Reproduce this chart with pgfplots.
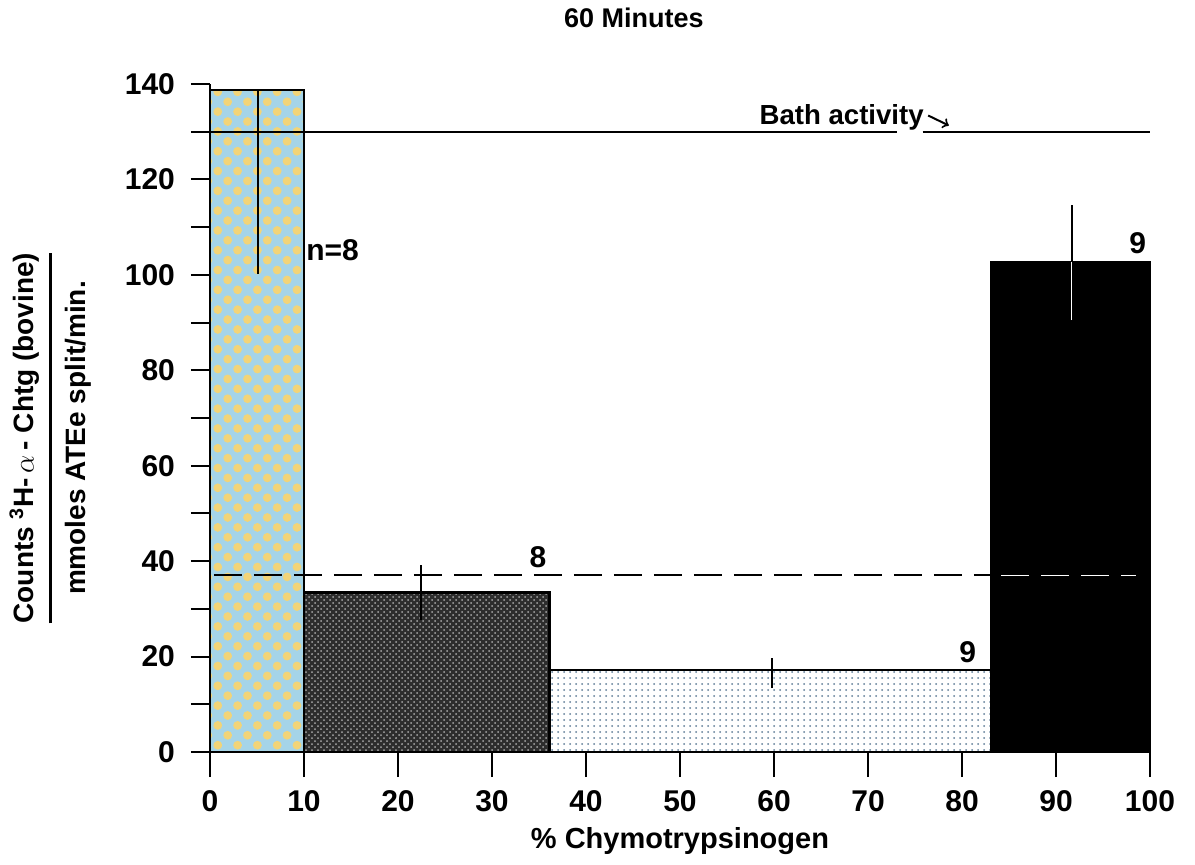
\documentclass[border=0pt]{standalone}
\usepackage{pgfplots}
\pgfplotsset{compat=1.18}
\usepackage{fontspec}
\setmainfont{Liberation Sans}
\usetikzlibrary{patterns,patterns.meta}
\definecolor{cblue}{RGB}{165,212,232}
\definecolor{cyell}{RGB}{242,212,120}
\definecolor{cdark}{RGB}{45,45,45}
\definecolor{cdarkdot}{RGB}{170,170,170}
\definecolor{cdot}{RGB}{95,125,150}
\pgfplotsset{common/.style={
  scale only axis, width=470pt, height=334pt,
  xmin=0, xmax=100, ymin=0, ymax=140,
  clip=false,
  /pgf/number format/assume math mode=true,
  tick label style={font=\fontsize{15}{15}\selectfont\bfseries},
}, post/.style={
  tick align=outside,
  every tick/.style={black, line width=1pt},
  axis line style={-, line width=1pt},
}}
\begin{document}
\begin{tikzpicture}
\begin{axis}[common,
  axis x line=bottom, axis y line=left, post,
  xtick=\empty, ytick={0,20,...,140}, minor ytick={10,30,...,130},
  major tick length=9.5pt, minor tick length=9.5pt,
  yticklabel style={xshift=-4.5pt},
  xlabel={\% Chymotrypsinogen},
  xlabel style={at={(axis description cs:0.5,-0.133)}, anchor=center, font=\fontsize{14.5}{14.5}\selectfont\bfseries},
  ylabel={\setlength\arrayrulewidth{1.5pt}\begin{tabular}{@{}c@{}}Counts \textsuperscript{3}H-\,$\alpha$\,- Chtg (bovine)\\[3pt]\hline\rule{0pt}{17pt}mmoles ATEe split/min.\end{tabular}},
  ylabel style={at={(axis description cs:-0.168,0.47)}, anchor=center, font=\fontsize{14}{15}\selectfont\bfseries},
]
\coordinate (O) at (axis cs:0,0);
% bars
\addplot[ybar interval, draw=black, line width=1.2pt, fill=cblue,
  postaction={pattern={Dots[distance=7pt, radius=2.2pt, angle=45]}, pattern color=cyell}]
  coordinates {(0,138.8) (10,138.8)};
\addplot[ybar interval, draw=black, line width=1.2pt, fill=cdark,
  postaction={pattern=crosshatch dots, pattern color=cdarkdot}]
  coordinates {(10,33.4) (36.1,33.4)};
\addplot[ybar interval, draw=black, line width=1.2pt, fill=white,
  postaction={pattern=dots, pattern color=cdot}]
  coordinates {(36.1,17.2) (83.1,17.2)};
\addplot[ybar interval, draw=black, line width=1.2pt, fill=black]
  coordinates {(83.1,102.6) (100,102.6)};
% error bars
\addplot[black, line width=1pt] coordinates {(5.1,100.2) (5.1,138.8)};
\addplot[black, line width=1pt] coordinates {(22.4,27.7) (22.4,39.2)};
\addplot[black, line width=1pt] coordinates {(59.8,13.4) (59.8,19.7)};
\addplot[black, line width=1pt] coordinates {(91.7,102.6) (91.7,114.6)};
\addplot[white, line width=0.5pt] coordinates {(91.7,90.5) (91.7,102.6)};
% bath activity
\addplot[black, line width=1.2pt] coordinates {(-1.8,130) (73.1,130)};
\addplot[black, line width=1.2pt] coordinates {(75.8,130) (100,130)};
% dashed line
\addplot[black, line width=1pt, dash pattern=on 14pt off 6pt] coordinates {(0.4,37) (83.1,37)};
\addplot[white, line width=0.5pt, dash pattern=on 14pt off 6pt] coordinates {(84.2,37) (98.5,37)};
% texts
\node[anchor=base, font=\fontsize{13.8}{13.8}\selectfont\bfseries] at (axis cs:67.2,131.6) {Bath activity};
\draw[->, line width=1pt] (axis cs:76.4,133.4) -- (axis cs:78.6,131.3);
\node[anchor=west, inner sep=0pt, font=\fontsize{15}{15}\selectfont\bfseries] at (axis cs:10.2,105.2) {n=8};
\node[font=\fontsize{15}{15}\selectfont\bfseries] at (axis cs:34.9,40.9) {8};
\node[font=\fontsize{15}{15}\selectfont\bfseries] at (axis cs:80.6,21) {9};
\node[font=\fontsize{15}{15}\selectfont\bfseries] at (axis cs:98.7,106.7) {9};
\node[font=\fontsize{13.5}{13.5}\selectfont\bfseries] at (axis description cs:0.451,1.099) {60 Minutes};
\end{axis}
\begin{axis}[common,
  axis x line=bottom, axis y line=none, post,
  xtick={0,10,...,100}, ytick=\empty,
  major tick length=12.5pt,
  xticklabel style={yshift=-3pt},
]
\end{axis}
\path ([xshift=-105pt,yshift=-56pt]O) rectangle ([xshift=492.5pt,yshift=376pt]O);
\end{tikzpicture}
\end{document}
